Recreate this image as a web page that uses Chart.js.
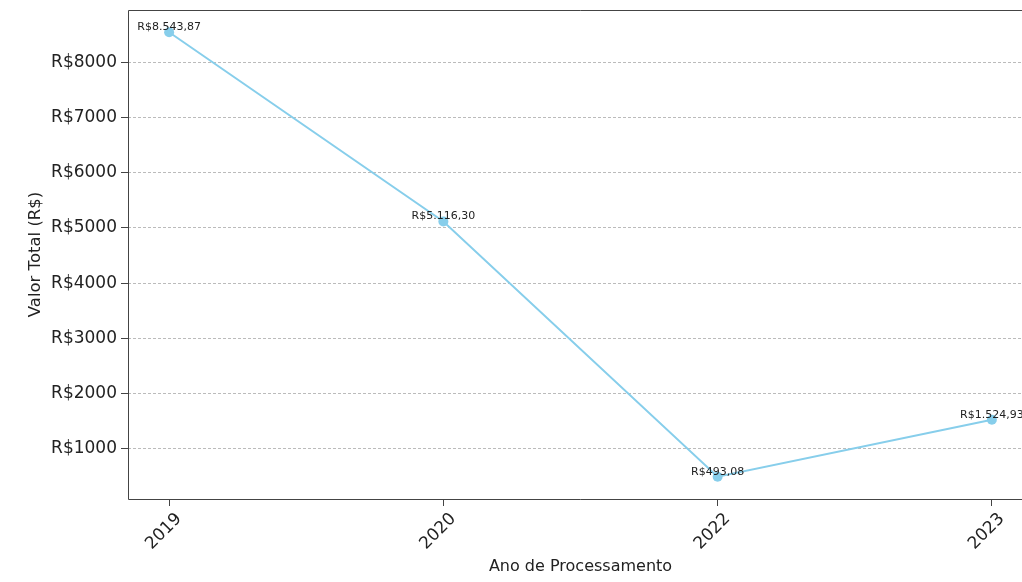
<!DOCTYPE html>
<html><head><meta charset="utf-8">
<script src="https://cdn.jsdelivr.net/npm/chart.js@4"></script>
<style>
html,body{margin:0;padding:0;background:#fff;overflow:hidden;width:1022px;height:582px}
#wrap{position:relative;width:1060px;height:582px}
</style></head>
<body><div id="wrap"><canvas id="c"></canvas></div>
<script>
const categories = ['2019', '2020', '2022', '2023'];
const values = [8543.87, 5116.30, 493.08, 1524.93];
const yTickValues = [1000, 2000, 3000, 4000, 5000, 6000, 7000, 8000];

function brl(v) {
  const parts = v.toFixed(2).split('.');
  const intPart = parts[0].replace(/\B(?=(\d{3})+(?!\d))/g, '.');
  return 'R$' + intPart + ',' + parts[1];
}

const FONT = 'DejaVu Sans';
const LINE = '#87CEEB';
const AXIS = '#444444';

const framePlugin = {
  id: 'frame',
  afterDraw(chart) {
    const {ctx, chartArea: a} = chart;
    const l = Math.round(a.left) + 0.5, t = Math.round(a.top) + 0.5, b = Math.round(a.bottom) + 0.5;
    ctx.save();
    ctx.strokeStyle = AXIS;
    ctx.lineWidth = 1;
    ctx.beginPath();
    ctx.moveTo(a.right, t);
    ctx.lineTo(l, t);
    ctx.lineTo(l, b);
    ctx.lineTo(a.right, b);
    ctx.stroke();
    ctx.restore();
  }
};

const labelPlugin = {
  id: 'valueLabels',
  afterDatasetsDraw(chart) {
    const {ctx} = chart;
    const meta = chart.getDatasetMeta(0);
    ctx.save();
    ctx.font = '11px "' + FONT + '"';
    ctx.fillStyle = '#222';
    ctx.textAlign = 'center';
    ctx.textBaseline = 'alphabetic';
    meta.data.forEach((pt, i) => {
      ctx.fillText(brl(values[i]), pt.x, pt.y - 2);
    });
    ctx.restore();
  }
};

new Chart(document.getElementById('c'), {
  type: 'line',
  data: {
    datasets: [{
      data: values.map((v, i) => ({x: i, y: v})),
      borderColor: LINE,
      backgroundColor: LINE,
      borderWidth: 2,
      pointRadius: 5,
      pointHoverRadius: 5,
      pointBorderWidth: 0,
      tension: 0,
      clip: false
    }]
  },
  options: {
    responsive: true,
    maintainAspectRatio: false,
    animation: false,
    events: [],
    layout: {padding: {top: 10, right: 27, left: 0, bottom: 0}},
    plugins: {legend: {display: false}, tooltip: {enabled: false}},
    scales: {
      x: {
        type: 'linear',
        min: -0.15,
        max: 3.15,
        afterBuildTicks: s => { s.ticks = categories.map((c, i) => ({value: i})); },
        afterFit: s => { s.height = 83; s.paddingLeft = 0; s.paddingRight = 0; },
        ticks: {
          callback: v => categories[v],
          minRotation: 45, maxRotation: 45, autoSkip: false,
          font: {family: FONT, size: 17}, color: '#222',
          padding: 3, labelOffset: 10
        },
        grid: {drawOnChartArea: false, drawTicks: true, tickLength: 7, tickColor: AXIS, tickWidth: 1},
        border: {display: false},
        title: {display: true, text: 'Ano de Processamento', font: {family: FONT, size: 16}, color: '#222', padding: {top: 0, bottom: 6}}
      },
      y: {
        type: 'linear',
        min: 90.5,
        max: 8946.4,
        afterBuildTicks: s => { s.ticks = yTickValues.map(v => ({value: v})); },
        afterFit: s => { s.width = 128; s.paddingTop = 0; s.paddingBottom = 0; },
        ticks: {
          callback: v => 'R$' + v,
          font: {family: FONT, size: 17}, color: '#222', padding: 4
        },
        grid: {color: 'rgba(170,170,170,0.8)', lineWidth: 1, drawTicks: true, tickLength: 7, tickColor: AXIS, tickWidth: 1, tickBorderDash: []},
        border: {display: false, dash: [3, 2]},
        title: {display: true, text: 'Valor Total (R$)', font: {family: FONT, size: 16.5}, color: '#222', padding: {top: 26, bottom: 0}}
      }
    }
  },
  plugins: [framePlugin, labelPlugin]
});
</script>
</body></html>
